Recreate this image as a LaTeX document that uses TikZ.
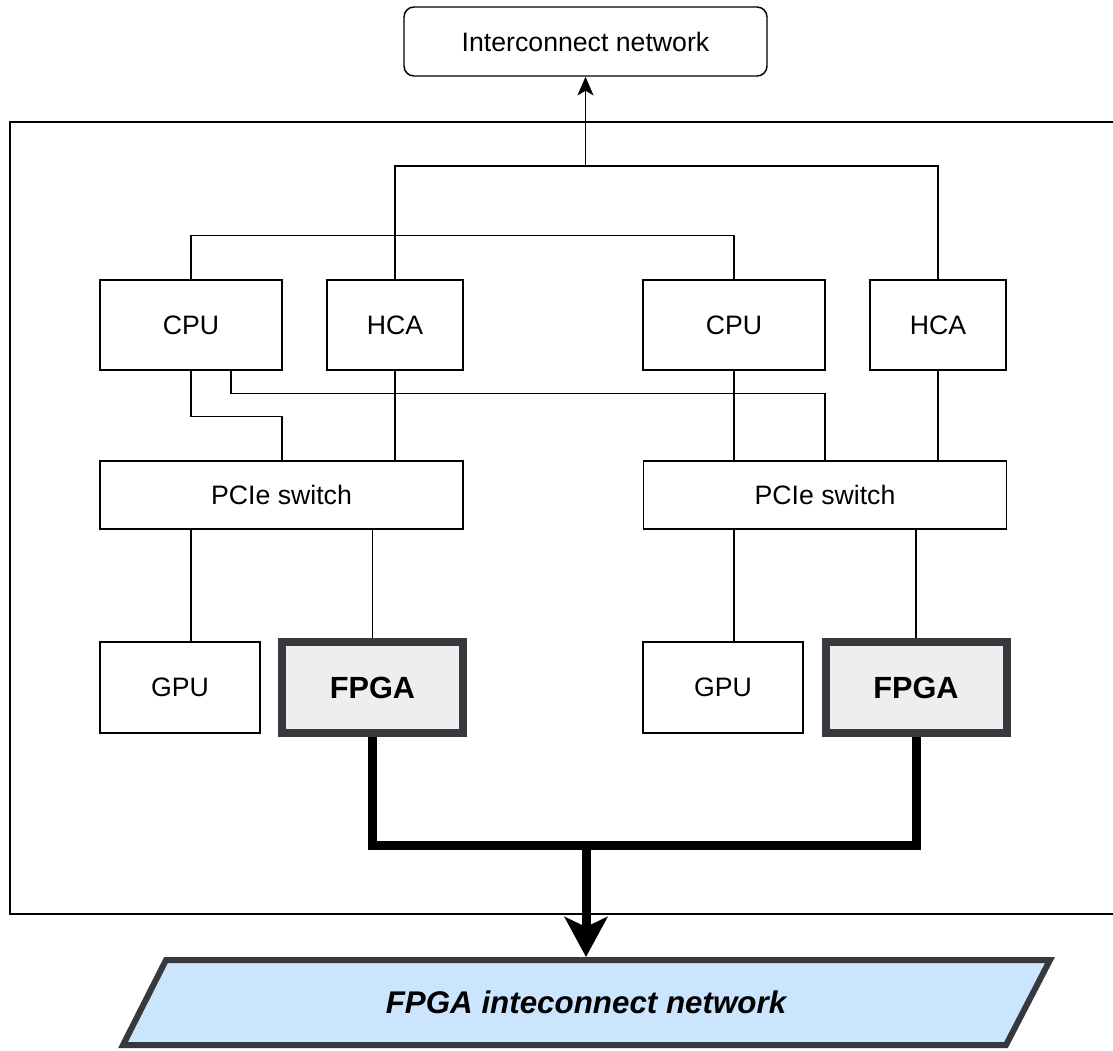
\documentclass[tikz,border=0pt]{standalone}
\usepackage{fontspec}
\setmainfont{Liberation Sans}
\usetikzlibrary{arrows.meta,calc}
\definecolor{dk}{HTML}{36393D}
\definecolor{fpgafill}{HTML}{EEEEEE}
\definecolor{netfill}{HTML}{CCE5FF}
\begin{document}
\begin{tikzpicture}[x=0.75pt,y=-0.75pt,
  wire/.style={line width=1.1pt},
  box/.style={draw,line width=1.1pt,inner sep=0pt,font=\fontsize{20}{24}\selectfont},
  cpubox/.style={box,minimum width=136.5pt,minimum height=67.5pt},
  hcabox/.style={box,minimum width=102pt,minimum height=67.5pt},
  pciebox/.style={box,minimum width=272.5pt,minimum height=51pt},
  gpubox/.style={box,minimum width=120pt,minimum height=68.25pt},
  fpgabox/.style={draw=dk,fill=fpgafill,line width=6pt,inner sep=0pt,
    minimum width=135.75pt,minimum height=68.25pt,
    font=\fontsize{23}{27}\selectfont\bfseries},
  bigwire/.style={line width=6.75pt,line join=miter},
  netshape/.style={draw=dk,fill=netfill,line width=4.5pt,line join=miter},
]
\useasboundingbox (0,0) rectangle (1113,1050);

% outer frame
\draw[line width=1.4pt] (10,122) rectangle (1140,914);

% top network
\node[box,rounded corners=7.5pt,minimum width=272.25pt,minimum height=51.75pt] (inet) at (585.5,41.5) {Interconnect network};

% row 1
\node[cpubox] (cpu1) at (191,325) {CPU};
\node[hcabox] (hca1) at (395,325) {HCA};
\node[cpubox] (cpu2) at (734,325) {CPU};
\node[hcabox] (hca2) at (938,325) {HCA};

% row 2
\node[pciebox] (pcie1) at (281.5,495) {PCIe switch};
\node[pciebox] (pcie2) at (825,495) {PCIe switch};

% row 3
\node[gpubox] (gpu1) at (180,687.5) {GPU};
\node[fpgabox] (fpga1) at (372.5,687.5) {FPGA};
\node[gpubox] (gpu2) at (723,687.5) {GPU};
\node[fpgabox] (fpga2) at (916,687.5) {FPGA};

% bottom network
\draw[netshape] (166,960) -- (1050,960) -- (1006,1045) -- (123,1045) -- cycle;
\node[font=\fontsize{23.5}{28}\selectfont\bfseries\itshape] (fin) at (586,1002.5) {FPGA inteconnect network};
\coordinate (finTop) at (586,957);

% HCA uplinks
\coordinate (hcajoin) at (585.5,166);
\draw[wire] (hca1.north) |- (hcajoin) -| (hca2.north);
\draw[wire,-{Stealth[length=14pt,width=12pt,inset=3.5pt]}] (hcajoin) -- (inet.south);

% CPU-CPU link
\draw[wire] (cpu1.north) -- ++(0,-44) -| (cpu2.north);

% CPU1 to PCIe switches
\draw[wire] (cpu1.south) -- ++(0,46) -| ($(pcie1.north)+(0.5,0)$);
\draw[wire] ($(cpu1.south)+(40,0)$) -- ++(0,23) -| (pcie2.north);

% down links to PCIe switches
\draw[wire] (hca1.south) -- (hca1.south |- pcie1.north);
\draw[wire] (cpu2.south) -- (cpu2.south |- pcie2.north);
\draw[wire] (hca2.south) -- (hca2.south |- pcie2.north);

% PCIe to devices
\draw[wire] (pcie1.south -| cpu1.south) -- (gpu1.north -| cpu1.south);
\draw[wire] (pcie1.south -| fpga1.north) -- (fpga1.north);
\draw[wire] (pcie2.south -| cpu2.south) -- (gpu2.north -| cpu2.south);
\draw[wire] (pcie2.south -| fpga2.north) -- (fpga2.north);

% FPGA links
\coordinate (fjoin) at (586,845);
\draw[bigwire] (fpga1.south) |- (fjoin) -| (fpga2.south);
\draw[bigwire,-{Stealth[length=30pt,width=32pt,inset=7.5pt]}] (fjoin) -- (finTop);
\end{tikzpicture}
\end{document}
